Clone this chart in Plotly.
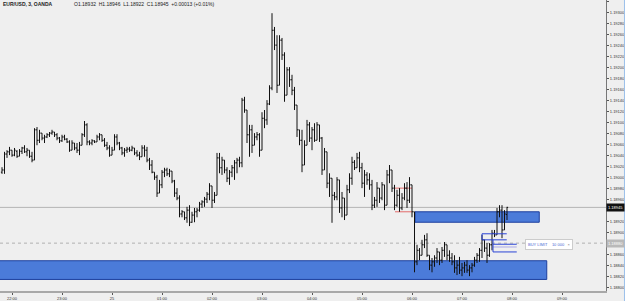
import plotly.graph_objects as go

# bar index 0 = 21:48, 3-minute bars
open_ = [1.19009,1.19013,1.19042,1.19046,1.19049,1.19040,1.19047,1.19038,1.19047,1.19053,
1.19046,1.19049,1.19038,1.19031,1.19086,1.19067,1.19080,1.19071,1.19073,1.19077,
1.19080,1.19082,1.19077,1.19071,1.19066,1.19073,1.19069,1.19064,1.19049,1.19062,
1.19053,1.19049,1.19058,1.19077,1.19095,1.19064,1.19062,1.19066,1.19064,1.19073,
1.19077,1.19067,1.19058,1.19053,1.19040,1.19049,1.19073,1.19062,1.19053,1.19044,
1.19049,1.19051,1.19049,1.19053,1.19044,1.19040,1.19037,1.19053,1.19049,1.19031,
1.19022,1.19009,1.19000,1.18971,1.18986,1.19009,1.19013,1.19006,1.19011,1.18993,
1.18971,1.18962,1.18933,1.18937,1.18926,1.18940,1.18918,1.18931,1.18937,1.18940,
1.18951,1.18955,1.18960,1.18969,1.18984,1.18958,1.18967,1.19035,1.19017,1.19031,
1.19013,1.18998,1.19009,1.19017,1.19026,1.19031,1.19026,1.19140,1.19122,1.19077,
1.19086,1.19058,1.19073,1.19077,1.19049,1.19107,1.19104,1.19133,1.19162,1.19267,
1.19240,1.19167,1.19249,1.19222,1.19149,1.19195,1.19177,1.19158,1.19131,1.19086,
1.19067,1.19022,1.19058,1.19095,1.19071,1.19086,1.19067,1.19095,1.19071,1.19013,
1.19046,1.18989,1.18998,1.18967,1.18964,1.18995,1.18944,1.18962,1.18931,1.18977,
1.18998,1.19027,1.19017,1.19035,1.19017,1.18989,1.19004,1.18995,1.18986,1.18949,
1.18958,1.18980,1.18962,1.18986,1.18949,1.19004,1.19013,1.18980,1.18949,1.18967,
1.18944,1.18962,1.18980,1.18958,1.18986,1.18937,1.18846,1.18867,1.18858,1.18877,
1.18886,1.18858,1.18840,1.18846,1.18853,1.18864,1.18849,1.18867,1.18877,1.18858,
1.18853,1.18846,1.18835,1.18840,1.18831,1.18835,1.18840,1.18831,1.18835,1.18840,
1.18849,1.18858,1.18867,1.18886,1.18871,1.18858,1.18877,1.18898,1.18895,1.18937,
1.18940,1.18904,1.18932]
high = [1.19018,1.19046,1.19049,1.19055,1.19049,1.19053,1.19049,1.19051,1.19055,1.19058,
1.19053,1.19049,1.19046,1.19089,1.19091,1.19086,1.19080,1.19077,1.19080,1.19082,
1.19086,1.19082,1.19080,1.19073,1.19077,1.19077,1.19071,1.19067,1.19067,1.19062,
1.19062,1.19064,1.19080,1.19102,1.19098,1.19067,1.19069,1.19067,1.19077,1.19080,
1.19077,1.19071,1.19064,1.19058,1.19055,1.19078,1.19078,1.19064,1.19055,1.19053,
1.19055,1.19055,1.19057,1.19053,1.19049,1.19046,1.19058,1.19058,1.19055,1.19035,
1.19031,1.19009,1.19004,1.18995,1.19013,1.19017,1.19017,1.19015,1.19011,1.18995,
1.18980,1.18967,1.18940,1.18937,1.18946,1.18949,1.18937,1.18944,1.18944,1.18955,
1.18958,1.18964,1.18973,1.18989,1.18984,1.18973,1.19044,1.19044,1.19037,1.19031,
1.19018,1.19013,1.19022,1.19031,1.19035,1.19037,1.19144,1.19146,1.19122,1.19095,
1.19095,1.19080,1.19082,1.19080,1.19118,1.19122,1.19140,1.19167,1.19298,1.19273,
1.19258,1.19258,1.19253,1.19227,1.19200,1.19200,1.19186,1.19164,1.19131,1.19086,
1.19086,1.19067,1.19104,1.19100,1.19091,1.19098,1.19100,1.19095,1.19073,1.19053,
1.19046,1.19007,1.18998,1.18973,1.19000,1.18995,1.18973,1.18962,1.18986,1.19007,
1.19037,1.19031,1.19044,1.19046,1.19026,1.19013,1.19009,1.19007,1.18995,1.18964,
1.18991,1.18980,1.18991,1.18986,1.19013,1.19022,1.19013,1.18986,1.18977,1.18980,
1.18971,1.18989,1.18991,1.19000,1.18986,1.18937,1.18877,1.18871,1.18886,1.18895,
1.18898,1.18858,1.18853,1.18858,1.18871,1.18864,1.18873,1.18882,1.18877,1.18867,
1.18862,1.18858,1.18849,1.18855,1.18844,1.18846,1.18849,1.18840,1.18844,1.18855,
1.18862,1.18871,1.18895,1.18886,1.18880,1.18880,1.18904,1.18904,1.18944,1.18949,
1.18949,1.18940,1.18946]
low = [1.19006,1.19006,1.19035,1.19040,1.19037,1.19038,1.19035,1.19038,1.19042,1.19044,
1.19038,1.19035,1.19027,1.19031,1.19058,1.19062,1.19067,1.19062,1.19071,1.19073,
1.19077,1.19073,1.19067,1.19062,1.19064,1.19067,1.19062,1.19046,1.19049,1.19049,
1.19044,1.19040,1.19058,1.19073,1.19058,1.19058,1.19058,1.19062,1.19064,1.19067,
1.19064,1.19055,1.19049,1.19037,1.19040,1.19049,1.19058,1.19049,1.19040,1.19037,
1.19044,1.19046,1.19047,1.19040,1.19037,1.19031,1.19037,1.19037,1.19027,1.19013,
1.19007,1.18995,1.18964,1.18971,1.18980,1.19000,1.19002,1.19000,1.18989,1.18964,
1.18958,1.18927,1.18927,1.18922,1.18917,1.18911,1.18917,1.18918,1.18927,1.18937,
1.18944,1.18946,1.18953,1.18958,1.18944,1.18953,1.18967,1.19007,1.19004,1.19007,
1.18991,1.18986,1.19000,1.18995,1.19007,1.19018,1.19018,1.19117,1.19062,1.19037,
1.19044,1.19058,1.19067,1.19037,1.19049,1.19089,1.19095,1.19131,1.19158,1.19231,
1.19153,1.19167,1.19213,1.19137,1.19149,1.19164,1.19149,1.19122,1.19073,1.19058,
1.19009,1.19022,1.19058,1.19064,1.19049,1.19064,1.19067,1.19064,1.19004,1.19013,
1.18980,1.18964,1.18917,1.18958,1.18958,1.18935,1.18927,1.18922,1.18931,1.18971,
1.18986,1.19013,1.19017,1.19009,1.18980,1.18964,1.18986,1.18977,1.18940,1.18944,
1.18946,1.18953,1.18958,1.18940,1.18949,1.18989,1.18973,1.18940,1.18946,1.18937,
1.18940,1.18958,1.18944,1.18953,1.18927,1.18827,1.18840,1.18849,1.18858,1.18871,
1.18855,1.18831,1.18827,1.18837,1.18844,1.18840,1.18844,1.18855,1.18849,1.18846,
1.18840,1.18826,1.18822,1.18824,1.18820,1.18826,1.18826,1.18820,1.18827,1.18837,
1.18844,1.18846,1.18853,1.18864,1.18844,1.18855,1.18867,1.18891,1.18895,1.18927,
1.18889,1.18904,1.18922]
close = [1.19013,1.19042,1.19046,1.19049,1.19040,1.19049,1.19038,1.19047,1.19053,1.19046,
1.19049,1.19038,1.19031,1.19086,1.19067,1.19080,1.19071,1.19073,1.19077,1.19080,
1.19082,1.19077,1.19071,1.19066,1.19073,1.19069,1.19064,1.19049,1.19062,1.19053,
1.19049,1.19058,1.19077,1.19095,1.19064,1.19062,1.19066,1.19064,1.19073,1.19077,
1.19067,1.19058,1.19053,1.19040,1.19049,1.19073,1.19062,1.19053,1.19044,1.19049,
1.19051,1.19049,1.19053,1.19044,1.19040,1.19037,1.19053,1.19049,1.19031,1.19022,
1.19009,1.19000,1.18971,1.18986,1.19009,1.19013,1.19006,1.19011,1.18993,1.18971,
1.18962,1.18933,1.18937,1.18926,1.18940,1.18918,1.18931,1.18937,1.18940,1.18951,
1.18955,1.18960,1.18969,1.18984,1.18958,1.18967,1.19035,1.19017,1.19031,1.19013,
1.18998,1.19009,1.19017,1.19026,1.19031,1.19026,1.19140,1.19122,1.19077,1.19086,
1.19058,1.19073,1.19077,1.19049,1.19107,1.19104,1.19133,1.19162,1.19267,1.19240,
1.19167,1.19249,1.19222,1.19149,1.19195,1.19177,1.19158,1.19131,1.19086,1.19067,
1.19022,1.19058,1.19095,1.19071,1.19086,1.19067,1.19095,1.19071,1.19013,1.19046,
1.18989,1.18998,1.18967,1.18964,1.18995,1.18944,1.18962,1.18931,1.18977,1.18998,
1.19027,1.19017,1.19035,1.19017,1.18989,1.19004,1.18995,1.18986,1.18949,1.18958,
1.18980,1.18962,1.18986,1.18949,1.19004,1.19013,1.18980,1.18949,1.18967,1.18944,
1.18962,1.18980,1.18958,1.18986,1.18937,1.18846,1.18867,1.18858,1.18877,1.18886,
1.18858,1.18840,1.18846,1.18853,1.18864,1.18849,1.18867,1.18877,1.18858,1.18853,
1.18846,1.18835,1.18840,1.18831,1.18835,1.18840,1.18831,1.18835,1.18840,1.18849,
1.18858,1.18867,1.18886,1.18871,1.18858,1.18877,1.18898,1.18895,1.18937,1.18940,
1.18904,1.18933,1.18945]

bars = list(range(len(close)))
tick_bars = [4, 24, 44, 64, 84, 104, 124, 144, 164, 184, 204, 224]
tick_labels = ["22:00", "23:00", "25", "01:00", "02:00", "03:00", "04:00",
               "05:00", "06:00", "07:00", "08:00", "09:00"]
# price-scale labels (1.18940 and 1.18880 sit under the price tags)
price_ticks = [1.18800, 1.18820, 1.18840, 1.18860, 1.18900, 1.18920, 1.18960,
               1.18980, 1.19000, 1.19020, 1.19040, 1.19060, 1.19080, 1.19100,
               1.19120, 1.19140, 1.19160, 1.19180, 1.19200, 1.19220, 1.19240,
               1.19260, 1.19280, 1.19300, 1.19320]
price_labels = ["%.5f" % v for v in price_ticks]

last_price = 1.18945
order_price = 1.18880
zone_upper = (1.18918, 1.18937)
zone_lower = (1.18814, 1.18848)
red_box = (1.18937, 1.18980)

BG = "#efefef"
BLUE_FILL = "#4b7bd9"
BLUE_EDGE = "#1d3f9e"

fig = go.Figure(go.Ohlc(
    x=bars, open=open_, high=high, low=low, close=close,
    increasing=dict(line=dict(color="#111111", width=1)),
    decreasing=dict(line=dict(color="#111111", width=1)),
    tickwidth=0.45, hoverinfo="skip", showlegend=False))

shapes = [
    dict(type="rect", xref="x", yref="y", x0=-5, x1=217.9, y0=zone_lower[0], y1=zone_lower[1],
         fillcolor=BLUE_FILL, line=dict(color=BLUE_EDGE, width=1), layer="below"),
    dict(type="rect", xref="x", yref="y", x0=165.2, x1=214.9, y0=zone_upper[0], y1=zone_upper[1],
         fillcolor=BLUE_FILL, line=dict(color=BLUE_EDGE, width=1), layer="below"),
    dict(type="line", xref="x", yref="y", x0=157.2, x1=164, y0=red_box[0], y1=red_box[0],
         line=dict(color="#e26a6a", width=1), layer="below"),
    dict(type="line", xref="x", yref="y", x0=157.2, x1=164, y0=red_box[1], y1=red_box[1],
         line=dict(color="#e26a6a", width=1), layer="below"),
    dict(type="line", xref="paper", yref="y", x0=0, x1=1, y0=last_price, y1=last_price,
         line=dict(color="#b4b4b4", width=1), layer="below"),
    dict(type="line", xref="paper", yref="y", x0=0, x1=1, y0=order_price, y1=order_price,
         line=dict(color="#b0b0b0", width=1, dash="dot"), layer="below"),
    # position tool lines
    dict(type="line", xref="x", yref="y", x0=192, x1=201.9, y0=1.18897, y1=1.18897,
         line=dict(color="#2b44d6", width=1)),
    dict(type="line", xref="x", yref="y", x0=192, x1=201.9, y0=1.18886, y1=1.18886,
         line=dict(color="#2b44d6", width=1)),
    dict(type="line", xref="x", yref="y", x0=192, x1=192, y0=1.18886, y1=1.18897,
         line=dict(color="#2b44d6", width=1)),
    dict(type="line", xref="x", yref="y", x0=196.4, x1=205.9, y0=1.18878, y1=1.18878,
         line=dict(color="#2b44d6", width=1)),
    dict(type="line", xref="x", yref="y", x0=196.4, x1=205.9, y0=1.18873, y1=1.18873,
         line=dict(color="#a9a9e8", width=1)),
    dict(type="line", xref="x", yref="y", x0=196.4, x1=205.9, y0=1.18864, y1=1.18864,
         line=dict(color="#2b44d6", width=1)),
    dict(type="line", xref="x", yref="y", x0=196.4, x1=196.4, y0=1.18864, y1=1.18886,
         line=dict(color="#2b44d6", width=1)),
    # window edge
    dict(type="line", xref="paper", yref="paper", x0=1.0305, x1=1.0305, y0=-0.04, y1=1,
         line=dict(color="#9cc0ea", width=1)),
]

annotations = [
    dict(xref="paper", yref="paper", x=0.002, y=0.986, xanchor="left", yanchor="middle",
         text="<b>EUR/USD, 3, OANDA</b>", showarrow=False,
         font=dict(family="Liberation Sans", size=5, color="#222222")),
    dict(xref="paper", yref="paper", x=0.118, y=0.986, xanchor="left", yanchor="middle",
         text="O1.18932  H1.18946  L1.18922  C1.18945  +0.00013 (+0.01%)", showarrow=False,
         font=dict(family="Liberation Sans", size=5, color="#222222")),
    dict(xref="paper", yref="y", x=1.0, y=last_price, xanchor="left", yanchor="middle",
         text="1.18945", showarrow=False, bgcolor="#111111", borderpad=1,
         font=dict(family="Liberation Sans", size=4, color="#ffffff")),
    dict(xref="paper", yref="y", x=1.0, y=order_price, xanchor="left", yanchor="middle",
         text="1.18880", showarrow=False, bgcolor="#b9b9b9", borderpad=1,
         font=dict(family="Liberation Sans", size=4, color="#ffffff")),
    dict(xref="x", yref="y", x=209.2, y=1.18877, xanchor="left", yanchor="middle",
         text="<span style='color:#4a68d2'>BUY LIMIT</span>    <span style='color:#4a68d2'>10 000</span>   <span style='color:#777'>×</span>",
         showarrow=False, bgcolor="#ffffff", bordercolor="#cccccc", borderwidth=1, borderpad=2,
         font=dict(family="Liberation Sans", size=4, color="#4a68d2")),
]

fig.update_layout(
    width=625, height=301,
    margin=dict(l=0, r=19, t=0, b=10),
    paper_bgcolor=BG, plot_bgcolor=BG,
    shapes=shapes, annotations=annotations,
    showlegend=False,
    xaxis=dict(range=[-0.8, 241.6], tickmode="array", tickvals=tick_bars, ticktext=tick_labels,
               ticks="outside", ticklen=2, tickcolor="#555", showgrid=False, zeroline=False,
               showline=True, linecolor="#a8a8a8", linewidth=2,
               tickfont=dict(family="Liberation Sans", size=4, color="#333"),
               rangeslider=dict(visible=False), fixedrange=True),
    yaxis=dict(side="right", range=[1.18793, 1.19322], tickmode="array",
               tickvals=price_ticks, ticktext=price_labels,
               ticks="outside", ticklen=2, tickcolor="#555",
               showgrid=False, zeroline=False, showline=True, linecolor="#777", linewidth=1,
               tickfont=dict(family="Liberation Sans", size=4, color="#333"), fixedrange=True),
)

fig.write_html("out.html")
